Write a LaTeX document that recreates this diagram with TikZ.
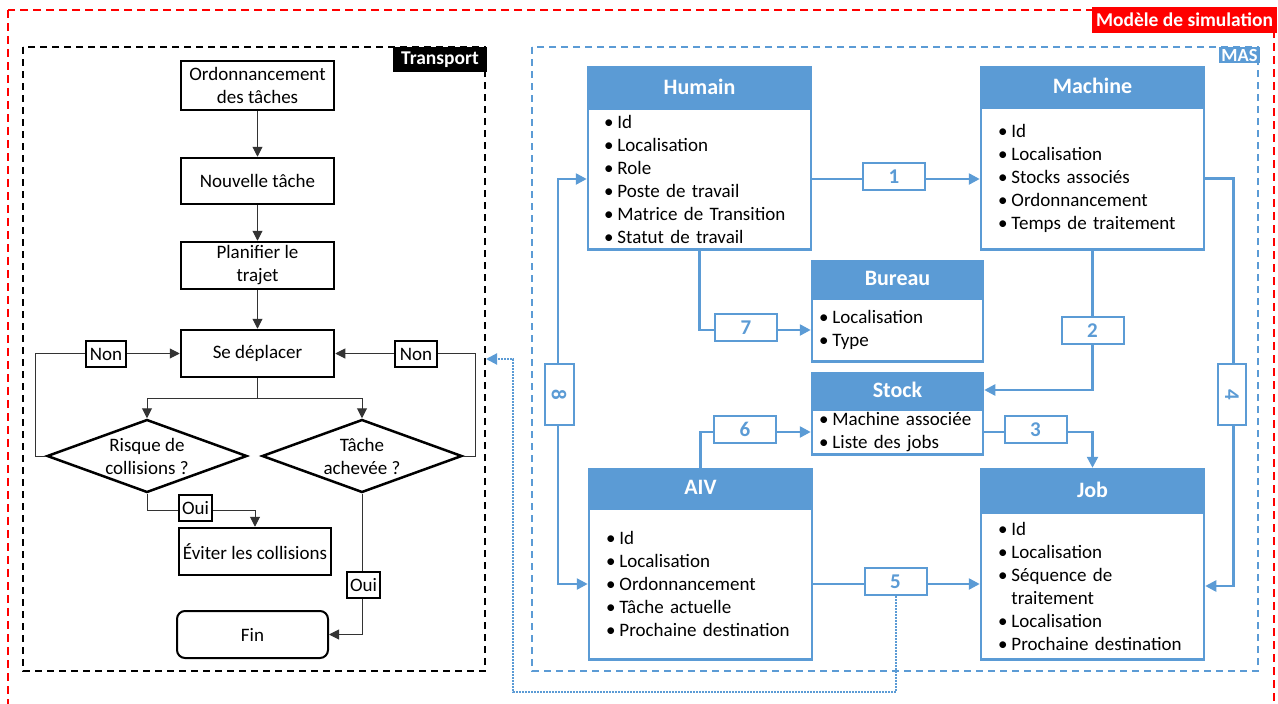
\documentclass[tikz,border=0pt]{standalone}
\usepackage{fontspec}
\setmainfont{Carlito}
\usetikzlibrary{arrows.meta,shapes.geometric,calc}
\definecolor{mblue}{HTML}{5B9BD5}
\definecolor{mred}{HTML}{FF0000}
\newcommand{\myb}{\textbullet\hspace{4pt}}
\newcommand{\myi}{\phantom{\textbullet}\hspace{4pt}}
\tikzset{
  fbox/.style={draw=black, line width=2.5pt, fill=white, font=\fontsize{19}{23}\selectfont, align=center, inner sep=0pt, minimum width=153pt},
  fdia/.style={diamond, draw=black, line width=2.5pt, minimum width=200pt, minimum height=73pt, inner sep=0pt},
  farr/.style={draw=black!80, line width=1pt, -{Triangle[length=10pt,width=10pt]}},
  flbl/.style={draw=black, line width=2.5pt, fill=white, inner sep=0pt, minimum height=26pt, font=\fontsize{19}{22}\selectfont},
  ehead/.style={draw=mblue, fill=mblue, line width=2.5pt, text=white, font=\fontsize{22}{26}\selectfont\bfseries, inner sep=0pt},
  ebody/.style={draw=mblue, fill=white, line width=2.5pt, font=\fontsize{19}{23}\selectfont, align=left, inner ysep=0pt, anchor=north},
  barr/.style={draw=mblue, line width=2.5pt, -{Triangle[length=11pt,width=11pt]}},
  blbl/.style={draw=mblue, fill=white, line width=2pt, text=mblue, font=\fontsize{21}{24}\selectfont\bfseries, minimum width=62pt, minimum height=27pt, inner sep=0pt},
  tag/.style={text=white, font=\fontsize{19.5}{22}\selectfont\bfseries, inner sep=0pt},
}
\begin{document}
\begin{tikzpicture}[x=1pt,y=-1pt]
\useasboundingbox (0,0) rectangle (1278,704);
% frames
\draw[mred, line width=2pt, dash pattern=on 8pt off 5pt] (8,10) rectangle (1274,730);
\node[tag, fill=mred, minimum width=185pt, minimum height=26pt] (tmod) at (1184.5,20) {Modèle de simulation};
\draw[black, line width=2pt, dash pattern=on 7pt off 5pt] (23,47) rectangle (485,671);
\node[tag, fill=black, minimum width=94pt, minimum height=25pt] (ttr) at (440,59.5) {Transport};
\draw[mblue, line width=2pt, dash pattern=on 7pt off 5pt] (532,47) rectangle (1258,671);
\node[tag, fill=mblue, minimum width=41pt, minimum height=16pt, font=\fontsize{18.5}{18}\selectfont\bfseries] (tmas) at (1239.5,55) {MAS};

% flowchart
\node[fbox, minimum height=49pt] (ord) at (257.5,85.5) {Ordonnancement\\des tâches};
\node[fbox, minimum height=46pt] (nouv) at (257.5,181) {Nouvelle tâche};
\node[fbox, minimum height=47pt] (plan) at (257.5,265.5) {Planifier le\\trajet};
\node[fbox, minimum height=47pt] (sedep) at (257.5,353.5) {Se déplacer};
\node[fdia] (d1) at (147,456) {};
\node[font=\fontsize{19}{23}\selectfont, align=center] (d1t) at (d1) {Risque de\\collisions ?};
\node[fdia] (d2) at (362,456) {};
\node[font=\fontsize{19}{23}\selectfont, align=center] (d2t) at (d2) {Tâche\\achevée ?};
\node[fbox, minimum width=152pt, minimum height=47pt] (evit) at (255,551.5) {Éviter les collisions};
\node[fbox, line width=2pt, rounded corners=8pt, minimum width=151pt, minimum height=47pt] (fin) at (252.5,634.5) {Fin};

\draw[farr] (ord) -- (nouv);
\draw[farr] (nouv) -- (plan);
\draw[farr] (plan) -- (sedep);
\coordinate (split) at (257.5,398);
\draw[draw=black!80, line width=1pt] (sedep.south) -- (split);
\draw[farr] (split) -| (d1.north);
\draw[farr] (split) -| (d2.north);
\draw[farr] (d1.west) -- ++(-10,0) |- (sedep.west);
\draw[farr] (d2.east) -- ++(12,0) |- (sedep.east);
\coordinate (o1) at (255,510);
\draw[farr] (d1.south) |- (o1) -- (evit.north);
\draw[farr] (d2.south) |- (fin.east);
\node[flbl, minimum width=40pt] (nonL) at (106,354) {Non};
\node[flbl, minimum width=42pt] (nonR) at (416,354) {Non};
\node[flbl, minimum width=33pt] (oui1) at (195.5,508) {Oui};
\node[flbl, minimum width=33pt] (oui2) at (363.5,585) {Oui};

% MAS entities
\node[ehead, minimum width=223pt, minimum height=39pt] (humH) at (699.5,86.5) {Humain};
\node[ebody, text width=191pt, inner xsep=16pt, minimum height=141pt] (hum) at (humH.south)
  {\myb Id\\\myb Localisation\\\myb Role\\\myb Poste de travail\\\myb Matrice de Transition\\\myb Statut de travail};
\node[ehead, minimum width=223pt, minimum height=38pt] (machH) at (1092.5,86) {Machine};
\node[ebody, text width=189pt, inner xsep=17pt, minimum height=142pt] (mach) at (machH.south)
  {\myb Id\\\myb Localisation\\\myb Stocks associés\\\myb Ordonnancement\\\myb Temps de traitement};
\node[ehead, minimum width=171pt, minimum height=35pt] (burH) at (897.5,278.5) {Bureau};
\node[ebody, text width=157pt, inner xsep=7pt, minimum height=63pt] (bur) at (burH.south)
  {\myb Localisation\\\myb Type};
\node[ehead, minimum width=171pt, minimum height=34pt] (stoH) at (897.5,390) {Stock};
\node[ebody, text width=157pt, inner xsep=7pt, minimum height=45pt] (sto) at (stoH.south)
  {\myb Machine associée\\\myb Liste des jobs};
\node[ehead, minimum width=223pt, minimum height=37pt] (aivH) at (700.5,487.5) {AIV};
\node[ebody, text width=189pt, inner xsep=17pt, minimum height=151pt] (aiv) at (aivH.south)
  {\myb Id\\\myb Localisation\\\myb Ordonnancement\\\myb Tâche actuelle\\\myb Prochaine destination};
\node[ehead, minimum width=223pt, minimum height=41pt] (jobH) at (1092.5,489.5) {Job};
\node[ebody, text width=189pt, inner xsep=17pt, minimum height=147pt] (job) at (jobH.south)
  {\myb Id\\\myb Localisation\\\myb Séquence de\\\myi traitement\\\myb Localisation\\\myb Prochaine destination};

% MAS connectors
\draw[barr] (hum.east) -- (hum.east -| mach.west);
\draw[barr] (hum.south) |- (bur.west);
\draw[barr] (mach.south) |- (stoH.east);
\draw[barr] (sto.east) -| (jobH.north);
\draw[barr] (mach.east) -- ++(28,0) |- (job.east);
\draw[barr] (aiv.east) -- (aiv.east -| job.west);
\draw[barr] (aivH.north) |- (sto.west);
\draw[mblue, line width=2.5pt, {Triangle[length=11pt,width=11pt]}-{Triangle[length=11pt,width=11pt]}] (aiv.west) -- ++(-30,0) |- (hum.west);

\node[blbl] (l1) at (894,176.5) {1};
\node[blbl] (l7) at (746,327.5) {7};
\node[blbl] (l2) at (1092.5,330.5) {2};
\node[blbl] (l3) at (1035.5,429.5) {3};
\node[blbl, minimum width=61pt, minimum height=28pt, rotate=-90] (l4) at (1232,394.5) {4};
\node[blbl] (l5) at (895.5,581.5) {5};
\node[blbl] (l6) at (745,429.5) {6};
\node[blbl, minimum width=61pt, minimum height=29pt, rotate=-90] (l8) at (559,394.5) {8};

% dotted link
\coordinate (dA) at (895.5,692);
\coordinate (dB) at (513,692);
\coordinate (dC) at (513,359);
\coordinate (dEnd) at (486,359);
\draw[mblue, line width=2pt, dash pattern=on 1.5pt off 1.5pt, -{Triangle[length=11pt,width=11pt]}] (l5.south) -- (dA) -- (dB) -- (dC) -- (dEnd);
\end{tikzpicture}
\end{document}
